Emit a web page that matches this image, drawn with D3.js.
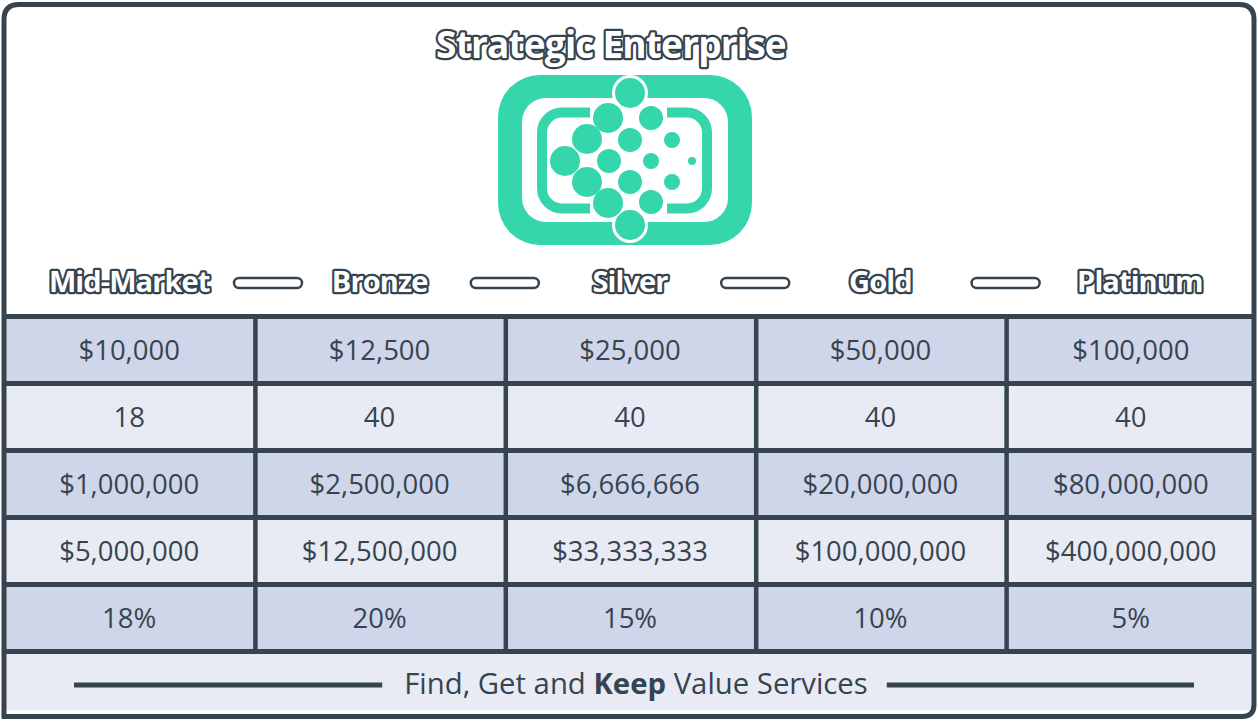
<!DOCTYPE html>
<html>
<head>
<meta charset="utf-8">
<script src="https://cdn.jsdelivr.net/npm/d3@7"></script>
<style>
  body { margin: 0; background: #fff; }
  svg { display: block; font-family: "Open Sans", sans-serif; }
</style>
</head>
<body>
<svg id="chart" width="1258" height="721"></svg>
<script>
// tiers + table values
const tiers = ["Mid-Market", "Bronze", "Silver", "Gold", "Platinum"]
const fees = ["$10,000", "$12,500", "$25,000", "$50,000", "$100,000"]
const counts = ["18", "40", "40", "40", "40"]
const lowValues = ["$1,000,000", "$2,500,000", "$6,666,666", "$20,000,000", "$80,000,000"]
const highValues = ["$5,000,000", "$12,500,000", "$33,333,333", "$100,000,000", "$400,000,000"]
const rates = ["18%", "20%", "15%", "10%", "5%"]
const rowKeys = ["fees", "counts", "lowValues", "highValues", "rates"]
const title = "Strategic Enterprise"
const footerParts = [{t: "Find, Get and ", b: false}, {t: "Keep", b: true}, {t: " Value Services", b: false}]

const rows = [fees, counts, lowValues, highValues, rates]

const DARK = "#36444f"
const TEAL = "#36d6ad"
const ROW_A = "#d0d6ea"
const ROW_B = "#e8ebf4"

const frameL = 4, frameR = 1254, frameT = 4.5, frameB = 716.5
const tableTop = 316.5, tableBottom = 651.5

const svg = d3.select("#chart")

const x = d3.scaleBand().domain(tiers).range([frameL, frameR + 2])
const y = d3.scaleBand().domain(rowKeys).range([tableTop, tableBottom])

// frame shape (rounded top + bottom right)
const framePath = () => {
    const r = 15, rb = 12
    return `M${frameL},${frameT + r} Q${frameL},${frameT} ${frameL + r},${frameT} L${frameR - r},${frameT} Q${frameR},${frameT} ${frameR},${frameT + r}
            L${frameR},${frameB - rb} Q${frameR},${frameB} ${frameR - rb},${frameB} L${frameL},${frameB} Z`
}
svg.append("path").attr("d", framePath()).attr("fill", "#fff")

// footer bg
svg.append("rect")
    .attr("x", frameL).attr("y", tableBottom)
    .attr("width", frameR - frameL).attr("height", frameB - tableBottom - 6)
    .attr("fill", ROW_B)

// rows
const cells = svg.append("g")
rowKeys.forEach((k, i) => {
    cells.append("rect")
        .attr("x", frameL).attr("y", y(k))
        .attr("width", frameR - frameL).attr("height", y.bandwidth())
        .attr("fill", i % 2 === 0 ? ROW_A : ROW_B)

    cells.selectAll(null)
        .data(rows[i])
        .enter().append("text")
        .attr("x", (d, j) => x(tiers[j]) + x.bandwidth() / 2)
        .attr("y", y(k) + y.bandwidth() / 2 + 10)
        .attr("text-anchor", "middle")
        .attr("font-size", 27.5)
        .attr("fill", DARK)
        .text(d => d)
})

// grid lines
const grid = svg.append("g").attr("stroke", DARK).attr("stroke-width", 5)
rowKeys.concat(["end"]).forEach(k => {
    const yy = k === "end" ? tableBottom : y(k)
    grid.append("line").attr("x1", frameL).attr("x2", frameR).attr("y1", yy).attr("y2", yy)
})
tiers.slice(1).forEach(t => {
    grid.append("line")
        .attr("x1", x(t) + 1).attr("x2", x(t) + 1)
        .attr("y1", tableTop).attr("y2", tableBottom)
        .attr("stroke-width", 4.5)
})

// footer
const footerY = tableBottom + (frameB - tableBottom) / 2
const ft = svg.append("text")
    .attr("x", 636).attr("y", footerY + 10)
    .attr("text-anchor", "middle")
    .attr("font-size", 29.3)
    .attr("fill", DARK)
ft.selectAll("tspan").data(footerParts).enter().append("tspan")
    .attr("font-weight", d => d.b ? 700 : 400)
    .text(d => d.t)
const fb = ft.node().getBBox()
svg.append("line").attr("x1", 74).attr("x2", fb.x - 22)
    .attr("y1", footerY + 1).attr("y2", footerY + 1)
    .attr("stroke", DARK).attr("stroke-width", 5)
svg.append("line").attr("x1", fb.x + fb.width + 19).attr("x2", 1194)
    .attr("y1", footerY + 1).attr("y2", footerY + 1)
    .attr("stroke", DARK).attr("stroke-width", 5)

// outer frame
svg.append("path").attr("d", framePath())
    .attr("fill", "none").attr("stroke", DARK).attr("stroke-width", 5)

// outlined text helper
const outlined = (sel, size, ls) => sel
    .attr("font-size", size)
    .attr("font-weight", 700)
    .attr("letter-spacing", ls)
    .attr("fill", "#fff")
    .attr("stroke", DARK)
    .attr("stroke-width", 4.5)
    .attr("stroke-linejoin", "round")
    .attr("paint-order", "stroke")
    .attr("text-anchor", "middle")

svg.append("text").attr("x", 611).attr("y", 58).text(title).call(outlined, 37, -0.8)

// tier labels
svg.append("g").selectAll("text")
    .data(tiers)
    .enter().append("text")
    .attr("x", (d, i) => x(d) + x.bandwidth() / 2 + (i === 4 ? 9 : 0))
    .attr("y", 292)
    .call(outlined, 29, -0.9)
    .text(d => d)

// connectors between tiers
const connX = [268, x(tiers[2]), x(tiers[3]), x(tiers[4])]
svg.append("g").selectAll("rect")
    .data(connX)
    .enter().append("rect")
    .attr("x", d => d - 34).attr("y", 278)
    .attr("width", 68).attr("height", 10)
    .attr("rx", 5)
    .attr("fill", "#fff").attr("stroke", DARK).attr("stroke-width", 2.5)

// logo
const logo = svg.append("g").attr("transform", "translate(498,75)")
logo.append("rect").attr("width", 254).attr("height", 170).attr("rx", 42).attr("fill", TEAL)
logo.append("rect").attr("x", 24).attr("y", 23).attr("width", 206).attr("height", 124).attr("rx", 24).attr("fill", "#fff")
logo.append("rect").attr("x", 44).attr("y", 37.5).attr("width", 165).attr("height", 96).attr("rx", 20)
    .attr("fill", "none").attr("stroke", TEAL).attr("stroke-width", 10)
// gap in inner ring
logo.append("rect").attr("x", 92).attr("y", 28).attr("width", 77).attr("height", 20).attr("fill", "#fff")
logo.append("rect").attr("x", 92).attr("y", 122).attr("width", 77).attr("height", 20).attr("fill", "#fff")

const dots = [
    [132, 18, 15], [110, 43, 15], [89, 64, 15], [67, 86, 15], [89, 107, 15], [110, 128, 15], [132, 150, 15],
    [153, 43, 12], [132, 65, 12], [111, 86, 12], [132, 107, 12], [153, 127, 12],
    [174, 65, 8], [153, 86, 8], [174, 107, 8],
    [194, 86, 4]
]
logo.selectAll("circle.halo").data(dots).enter().append("circle")
    .attr("class", "halo")
    .attr("cx", d => d[0]).attr("cy", d => d[1]).attr("r", d => d[2] + 3)
    .attr("fill", "#fff")
logo.selectAll("circle.dot").data(dots).enter().append("circle")
    .attr("class", "dot")
    .attr("cx", d => d[0]).attr("cy", d => d[1]).attr("r", d => d[2])
    .attr("fill", TEAL)
</script>
</body>
</html>
